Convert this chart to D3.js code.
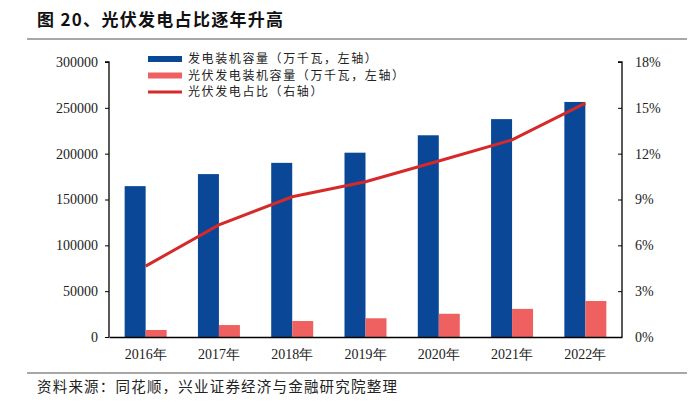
<!DOCTYPE html>
<html><head><meta charset="utf-8">
<script src="https://cdn.jsdelivr.net/npm/d3@7/dist/d3.min.js"></script>
<style>
body{margin:0;background:#fff;}
svg{display:block;}
</style></head>
<body>
<script>
const years = ["2016年","2017年","2018年","2019年","2020年","2021年","2022年"];
const totalCap = [164575, 177708, 189967, 201066, 220058, 237692, 256405];
const solarCap = [7631, 13042, 17433, 20418, 25343, 30656, 39261];
const solarShare = [4.64, 7.34, 9.18, 10.16, 11.52, 12.90, 15.31];
const leftTicks = [0, 50000, 100000, 150000, 200000, 250000, 300000];
const rightTicks = [0, 3, 6, 9, 12, 15, 18];
const legendLabels = ["发电装机容量（万千瓦，左轴）","光伏发电装机容量（万千瓦，左轴）","光伏发电占比（右轴）"];
const titleText = "图 20、光伏发电占比逐年升高";
const sourceText = "资料来源：同花顺，兴业证券经济与金融研究院整理";

(function(){
const W = 700, H = 408;
const pL = 109, pR = 622, pT = 62, pB = 337;
const cBlue = "#0a4796", cPink = "#ef6161", cRed = "#d62a2a";
const cjk = "'Noto Sans CJK SC', sans-serif";
const serif = "'Liberation Serif', 'Times New Roman', serif";

const svg = d3.select("body").append("svg").attr("width", W).attr("height", H);

// Title
svg.append("text").attr("x", 37).attr("y", 26)
  .attr("font-family", cjk).attr("font-weight", "bold").attr("font-size", 17)
  .attr("letter-spacing", 1.3).attr("fill", "#111").text(titleText);
svg.append("line").attr("x1", 27).attr("x2", 687).attr("y1", 39).attr("y2", 39)
  .attr("stroke", "#8a8a8a").attr("stroke-width", 1.5);

// Scales
const x = d3.scaleBand().domain(years).range([pL, pR]).paddingInner(0).paddingOuter(0);
const yL = d3.scaleLinear().domain([0, 300000]).range([pB, pT]);
const yR = d3.scaleLinear().domain([0, 18]).range([pB, pT]);
const barW = 21;

const g = svg.append("g");
g.selectAll(".b").data(years).enter().append("rect")
  .attr("x", d => x(d) + x.bandwidth()/2 - barW)
  .attr("y", (d,i) => yL(totalCap[i]))
  .attr("width", barW)
  .attr("height", (d,i) => pB - yL(totalCap[i]))
  .attr("fill", cBlue);
g.selectAll(".p").data(years).enter().append("rect")
  .attr("x", d => x(d) + x.bandwidth()/2)
  .attr("y", (d,i) => yL(solarCap[i]))
  .attr("width", barW)
  .attr("height", (d,i) => pB - yL(solarCap[i]))
  .attr("fill", cPink);

const line = d3.line().x((d,i) => x(years[i]) + x.bandwidth()/2).y(d => yR(d));
g.append("path").datum(solarShare).attr("d", line)
  .attr("fill", "none").attr("stroke", cRed).attr("stroke-width", 3);

// Left axis
const axL = svg.append("g").attr("transform", `translate(${pL},0)`)
  .call(d3.axisLeft(yL).tickValues(leftTicks).tickSize(4).tickPadding(7).tickFormat(d3.format("d")));
axL.select(".domain").attr("d", `M-4,${pT}H0V${pB}`).attr("stroke", "#000").attr("stroke-width", 1.3);
axL.selectAll("line").attr("stroke", "#000");
axL.selectAll("text").attr("font-family", serif).attr("font-size", 14).attr("fill", "#222");

// Right axis
const axR = svg.append("g").attr("transform", `translate(${pR},0)`)
  .call(d3.axisRight(yR).tickValues(rightTicks).tickSize(-4).tickPadding(13).tickFormat(d => d + "%"));
axR.select(".domain").attr("d", `M-4,${pT}H0V${pB}`).attr("stroke", "#000").attr("stroke-width", 1.3);
axR.selectAll("line").attr("stroke", "#000");
axR.selectAll("text").attr("font-family", serif).attr("font-size", 14).attr("fill", "#222");

// Bottom axis
const axB = svg.append("g").attr("transform", `translate(0,${pB})`)
  .call(d3.axisBottom(x).tickSize(0).tickPadding(12));
axB.select(".domain").attr("stroke", "#000").attr("stroke-width", 1.5);
axB.selectAll("text").attr("font-family", serif).attr("font-size", 14).attr("fill", "#222");

// Legend
const lg = svg.append("g");
const lgY = [59, 75.5, 92];
lgY.forEach((yy, i) => {
  if (i < 2) {
    lg.append("rect").attr("x", 148).attr("y", yy - 3).attr("width", 34).attr("height", 6)
      .attr("fill", i === 0 ? cBlue : cPink);
  } else {
    lg.append("line").attr("x1", 148).attr("x2", 182).attr("y1", yy).attr("y2", yy)
      .attr("stroke", cRed).attr("stroke-width", 3);
  }
  lg.append("text").attr("x", 188).attr("y", yy).attr("dy", "0.36em")
    .attr("font-family", cjk).attr("font-size", 12).attr("letter-spacing", 1.6)
    .attr("fill", "#222").text(legendLabels[i]);
});

// Source
svg.append("line").attr("x1", 27).attr("x2", 687).attr("y1", 373).attr("y2", 373)
  .attr("stroke", "#8a8a8a").attr("stroke-width", 1.5);
svg.append("text").attr("x", 37).attr("y", 387).attr("dy", "0.36em")
  .attr("font-family", cjk).attr("font-size", 14.5).attr("letter-spacing", 1.2)
  .attr("fill", "#222").text(sourceText);
})();
</script>
</body></html>
